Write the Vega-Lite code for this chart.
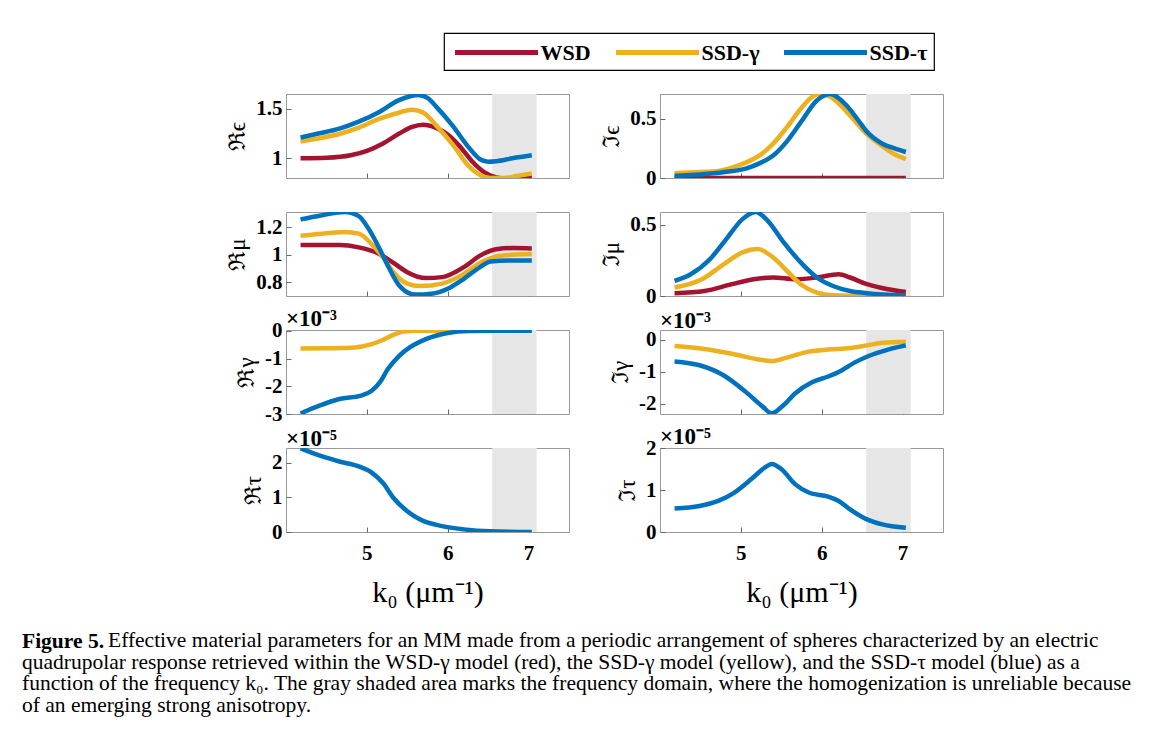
{
  "$schema": "https://vega.github.io/schema/vega-lite/v6.json",
  "background": "white",
  "padding": {"left": 22, "top": 32, "right": 5, "bottom": 5},
  "bounds": "flush",
  "columns": 2,
  "spacing": {"row": 34, "column": 91},
  "title": {
    "text": "Figure 5.",
    "subtitle": [
      "\u200b\u00a0\u00a0\u00a0\u00a0\u00a0\u00a0\u00a0\u00a0\u00a0\u00a0\u00a0\u00a0\u00a0\u00a0\u00a0\u00a0Effective material parameters for an MM made from a periodic arrangement of spheres characterized by an electric",
      "quadrupolar response retrieved within the WSD-γ model (red), the SSD-γ model (yellow), and the SSD-τ model (blue) as a",
      "function of the frequency k₀. The gray shaded area marks the frequency domain, where the homogenization is unreliable because",
      "of an emerging strong anisotropy."
    ],
    "orient": "bottom", "anchor": "start", "frame": "group", "dx": -264, "offset": 23,
    "font": "Liberation Serif", "fontSize": 21.5, "fontWeight": "bold", "color": "black",
    "subtitleFont": "Liberation Serif", "subtitleFontSize": 21.5, "subtitleColor": "black",
    "subtitleLineHeight": 21.7, "subtitlePadding": -22, "subtitleFontWeight": "normal"
  },
  "datasets": {
    "shade": [{"a": 6.55, "b": 7.1}],
    "curves": [
      {"p":"ReE","m":"WSD","k":4.18,"v":1.0},{"p":"ReE","m":"WSD","k":4.5,"v":1.005},{"p":"ReE","m":"WSD","k":4.8,"v":1.03},{"p":"ReE","m":"WSD","k":5.0,"v":1.075},{"p":"ReE","m":"WSD","k":5.2,"v":1.15},{"p":"ReE","m":"WSD","k":5.4,"v":1.25},{"p":"ReE","m":"WSD","k":5.55,"v":1.315},{"p":"ReE","m":"WSD","k":5.7,"v":1.34},{"p":"ReE","m":"WSD","k":5.85,"v":1.31},{"p":"ReE","m":"WSD","k":6.0,"v":1.24},{"p":"ReE","m":"WSD","k":6.15,"v":1.12},{"p":"ReE","m":"WSD","k":6.3,"v":0.97},{"p":"ReE","m":"WSD","k":6.45,"v":0.86},{"p":"ReE","m":"WSD","k":6.6,"v":0.805},{"p":"ReE","m":"WSD","k":6.75,"v":0.79},{"p":"ReE","m":"WSD","k":6.9,"v":0.8},{"p":"ReE","m":"WSD","k":7.04,"v":0.815},
      {"p":"ReE","m":"SSD-γ","k":4.18,"v":1.17},{"p":"ReE","m":"SSD-γ","k":4.4,"v":1.2},{"p":"ReE","m":"SSD-γ","k":4.66,"v":1.245},{"p":"ReE","m":"SSD-γ","k":4.9,"v":1.31},{"p":"ReE","m":"SSD-γ","k":5.16,"v":1.4},{"p":"ReE","m":"SSD-γ","k":5.35,"v":1.45},{"p":"ReE","m":"SSD-γ","k":5.56,"v":1.49},{"p":"ReE","m":"SSD-γ","k":5.7,"v":1.46},{"p":"ReE","m":"SSD-γ","k":5.86,"v":1.33},{"p":"ReE","m":"SSD-γ","k":6.06,"v":1.14},{"p":"ReE","m":"SSD-γ","k":6.26,"v":0.92},{"p":"ReE","m":"SSD-γ","k":6.4,"v":0.83},{"p":"ReE","m":"SSD-γ","k":6.53,"v":0.8},{"p":"ReE","m":"SSD-γ","k":6.7,"v":0.8},{"p":"ReE","m":"SSD-γ","k":6.85,"v":0.82},{"p":"ReE","m":"SSD-γ","k":7.04,"v":0.845},
      {"p":"ReE","m":"SSD-τ","k":4.18,"v":1.21},{"p":"ReE","m":"SSD-τ","k":4.4,"v":1.25},{"p":"ReE","m":"SSD-τ","k":4.66,"v":1.3},{"p":"ReE","m":"SSD-τ","k":4.9,"v":1.37},{"p":"ReE","m":"SSD-τ","k":5.16,"v":1.47},{"p":"ReE","m":"SSD-τ","k":5.39,"v":1.585},{"p":"ReE","m":"SSD-τ","k":5.55,"v":1.63},{"p":"ReE","m":"SSD-τ","k":5.63,"v":1.64},{"p":"ReE","m":"SSD-τ","k":5.75,"v":1.61},{"p":"ReE","m":"SSD-τ","k":5.86,"v":1.52},{"p":"ReE","m":"SSD-τ","k":6.06,"v":1.33},{"p":"ReE","m":"SSD-τ","k":6.26,"v":1.11},{"p":"ReE","m":"SSD-τ","k":6.4,"v":0.99},{"p":"ReE","m":"SSD-τ","k":6.5,"v":0.965},{"p":"ReE","m":"SSD-τ","k":6.6,"v":0.97},{"p":"ReE","m":"SSD-τ","k":6.8,"v":1.0},{"p":"ReE","m":"SSD-τ","k":7.04,"v":1.03},

      {"p":"ImE","m":"WSD","k":4.18,"v":0},{"p":"ImE","m":"WSD","k":5.5,"v":0},{"p":"ImE","m":"WSD","k":7.04,"v":0},
      {"p":"ImE","m":"SSD-γ","k":4.18,"v":0.04},{"p":"ImE","m":"SSD-γ","k":4.5,"v":0.05},{"p":"ImE","m":"SSD-γ","k":4.72,"v":0.06},{"p":"ImE","m":"SSD-γ","k":4.9,"v":0.09},{"p":"ImE","m":"SSD-γ","k":5.06,"v":0.13},{"p":"ImE","m":"SSD-γ","k":5.25,"v":0.2},{"p":"ImE","m":"SSD-γ","k":5.4,"v":0.29},{"p":"ImE","m":"SSD-γ","k":5.57,"v":0.43},{"p":"ImE","m":"SSD-γ","k":5.74,"v":0.585},{"p":"ImE","m":"SSD-γ","k":5.87,"v":0.68},{"p":"ImE","m":"SSD-γ","k":5.97,"v":0.71},{"p":"ImE","m":"SSD-γ","k":6.1,"v":0.69},{"p":"ImE","m":"SSD-γ","k":6.24,"v":0.61},{"p":"ImE","m":"SSD-γ","k":6.4,"v":0.49},{"p":"ImE","m":"SSD-γ","k":6.56,"v":0.37},{"p":"ImE","m":"SSD-γ","k":6.75,"v":0.27},{"p":"ImE","m":"SSD-γ","k":6.9,"v":0.2},{"p":"ImE","m":"SSD-γ","k":7.04,"v":0.16},
      {"p":"ImE","m":"SSD-τ","k":4.18,"v":0.02},{"p":"ImE","m":"SSD-τ","k":4.5,"v":0.03},{"p":"ImE","m":"SSD-τ","k":4.8,"v":0.05},{"p":"ImE","m":"SSD-τ","k":5.06,"v":0.08},{"p":"ImE","m":"SSD-τ","k":5.25,"v":0.13},{"p":"ImE","m":"SSD-τ","k":5.4,"v":0.19},{"p":"ImE","m":"SSD-τ","k":5.57,"v":0.31},{"p":"ImE","m":"SSD-τ","k":5.74,"v":0.47},{"p":"ImE","m":"SSD-τ","k":5.94,"v":0.655},{"p":"ImE","m":"SSD-τ","k":6.11,"v":0.71},{"p":"ImE","m":"SSD-τ","k":6.2,"v":0.68},{"p":"ImE","m":"SSD-τ","k":6.31,"v":0.61},{"p":"ImE","m":"SSD-τ","k":6.45,"v":0.49},{"p":"ImE","m":"SSD-τ","k":6.56,"v":0.39},{"p":"ImE","m":"SSD-τ","k":6.75,"v":0.29},{"p":"ImE","m":"SSD-τ","k":6.9,"v":0.25},{"p":"ImE","m":"SSD-τ","k":7.04,"v":0.22},

      {"p":"ReM","m":"WSD","k":4.18,"v":1.07},{"p":"ReM","m":"WSD","k":4.66,"v":1.07},{"p":"ReM","m":"WSD","k":4.9,"v":1.053},{"p":"ReM","m":"WSD","k":5.13,"v":1.012},{"p":"ReM","m":"WSD","k":5.33,"v":0.94},{"p":"ReM","m":"WSD","k":5.5,"v":0.873},{"p":"ReM","m":"WSD","k":5.73,"v":0.83},{"p":"ReM","m":"WSD","k":5.93,"v":0.837},{"p":"ReM","m":"WSD","k":6.2,"v":0.91},{"p":"ReM","m":"WSD","k":6.4,"v":0.993},{"p":"ReM","m":"WSD","k":6.6,"v":1.04},{"p":"ReM","m":"WSD","k":6.8,"v":1.048},{"p":"ReM","m":"WSD","k":7.04,"v":1.045},
      {"p":"ReM","m":"SSD-γ","k":4.18,"v":1.137},{"p":"ReM","m":"SSD-γ","k":4.5,"v":1.155},{"p":"ReM","m":"SSD-γ","k":4.73,"v":1.165},{"p":"ReM","m":"SSD-γ","k":4.9,"v":1.153},{"p":"ReM","m":"SSD-γ","k":5.06,"v":1.077},{"p":"ReM","m":"SSD-γ","k":5.2,"v":0.98},{"p":"ReM","m":"SSD-γ","k":5.33,"v":0.873},{"p":"ReM","m":"SSD-γ","k":5.5,"v":0.79},{"p":"ReM","m":"SSD-γ","k":5.66,"v":0.772},{"p":"ReM","m":"SSD-γ","k":5.93,"v":0.79},{"p":"ReM","m":"SSD-γ","k":6.2,"v":0.861},{"p":"ReM","m":"SSD-γ","k":6.4,"v":0.94},{"p":"ReM","m":"SSD-γ","k":6.6,"v":0.988},{"p":"ReM","m":"SSD-γ","k":6.8,"v":1.0},{"p":"ReM","m":"SSD-γ","k":7.04,"v":1.005},
      {"p":"ReM","m":"SSD-τ","k":4.18,"v":1.256},{"p":"ReM","m":"SSD-τ","k":4.43,"v":1.285},{"p":"ReM","m":"SSD-τ","k":4.73,"v":1.31},{"p":"ReM","m":"SSD-τ","k":4.9,"v":1.28},{"p":"ReM","m":"SSD-τ","k":5.03,"v":1.18},{"p":"ReM","m":"SSD-τ","k":5.16,"v":1.04},{"p":"ReM","m":"SSD-τ","k":5.26,"v":0.92},{"p":"ReM","m":"SSD-τ","k":5.4,"v":0.777},{"p":"ReM","m":"SSD-τ","k":5.6,"v":0.71},{"p":"ReM","m":"SSD-τ","k":5.8,"v":0.717},{"p":"ReM","m":"SSD-τ","k":6.0,"v":0.753},{"p":"ReM","m":"SSD-τ","k":6.2,"v":0.825},{"p":"ReM","m":"SSD-τ","k":6.4,"v":0.91},{"p":"ReM","m":"SSD-τ","k":6.53,"v":0.95},{"p":"ReM","m":"SSD-τ","k":6.75,"v":0.957},{"p":"ReM","m":"SSD-τ","k":7.04,"v":0.957},

      {"p":"ImM","m":"WSD","k":4.18,"v":0.019},{"p":"ImM","m":"WSD","k":4.55,"v":0.035},{"p":"ImM","m":"WSD","k":4.89,"v":0.083},{"p":"ImM","m":"WSD","k":5.16,"v":0.118},{"p":"ImM","m":"WSD","k":5.4,"v":0.13},{"p":"ImM","m":"WSD","k":5.67,"v":0.118},{"p":"ImM","m":"WSD","k":5.94,"v":0.13},{"p":"ImM","m":"WSD","k":6.21,"v":0.153},{"p":"ImM","m":"WSD","k":6.35,"v":0.13},{"p":"ImM","m":"WSD","k":6.56,"v":0.083},{"p":"ImM","m":"WSD","k":6.82,"v":0.047},{"p":"ImM","m":"WSD","k":7.04,"v":0.028},
      {"p":"ImM","m":"SSD-γ","k":4.18,"v":0.06},{"p":"ImM","m":"SSD-γ","k":4.52,"v":0.118},{"p":"ImM","m":"SSD-γ","k":4.79,"v":0.224},{"p":"ImM","m":"SSD-γ","k":5.02,"v":0.307},{"p":"ImM","m":"SSD-γ","k":5.21,"v":0.33},{"p":"ImM","m":"SSD-γ","k":5.4,"v":0.27},{"p":"ImM","m":"SSD-γ","k":5.57,"v":0.177},{"p":"ImM","m":"SSD-γ","k":5.74,"v":0.083},{"p":"ImM","m":"SSD-γ","k":5.94,"v":0.024},{"p":"ImM","m":"SSD-γ","k":6.14,"v":0.005},{"p":"ImM","m":"SSD-γ","k":6.5,"v":0},{"p":"ImM","m":"SSD-γ","k":7.04,"v":0},
      {"p":"ImM","m":"SSD-τ","k":4.18,"v":0.106},{"p":"ImM","m":"SSD-τ","k":4.38,"v":0.153},{"p":"ImM","m":"SSD-τ","k":4.62,"v":0.26},{"p":"ImM","m":"SSD-τ","k":4.82,"v":0.4},{"p":"ImM","m":"SSD-τ","k":5.02,"v":0.54},{"p":"ImM","m":"SSD-τ","k":5.18,"v":0.59},{"p":"ImM","m":"SSD-τ","k":5.33,"v":0.53},{"p":"ImM","m":"SSD-τ","k":5.53,"v":0.377},{"p":"ImM","m":"SSD-τ","k":5.74,"v":0.236},{"p":"ImM","m":"SSD-τ","k":5.94,"v":0.13},{"p":"ImM","m":"SSD-τ","k":6.14,"v":0.07},{"p":"ImM","m":"SSD-τ","k":6.35,"v":0.035},{"p":"ImM","m":"SSD-τ","k":6.56,"v":0.02},{"p":"ImM","m":"SSD-τ","k":7.04,"v":0.005},

      {"p":"ReG","m":"SSD-γ","k":4.18,"v":-0.64},{"p":"ReG","m":"SSD-γ","k":4.5,"v":-0.63},{"p":"ReG","m":"SSD-γ","k":4.85,"v":-0.6},{"p":"ReG","m":"SSD-γ","k":5.06,"v":-0.48},{"p":"ReG","m":"SSD-γ","k":5.18,"v":-0.35},{"p":"ReG","m":"SSD-γ","k":5.3,"v":-0.18},{"p":"ReG","m":"SSD-γ","k":5.46,"v":-0.02},{"p":"ReG","m":"SSD-γ","k":5.6,"v":0},{"p":"ReG","m":"SSD-γ","k":7.04,"v":0},
      {"p":"ReG","m":"SSD-τ","k":4.18,"v":-2.98},{"p":"ReG","m":"SSD-τ","k":4.43,"v":-2.68},{"p":"ReG","m":"SSD-τ","k":4.66,"v":-2.46},{"p":"ReG","m":"SSD-τ","k":4.93,"v":-2.34},{"p":"ReG","m":"SSD-τ","k":5.06,"v":-2.16},{"p":"ReG","m":"SSD-τ","k":5.16,"v":-1.86},{"p":"ReG","m":"SSD-τ","k":5.26,"v":-1.38},{"p":"ReG","m":"SSD-τ","k":5.4,"v":-0.9},{"p":"ReG","m":"SSD-τ","k":5.53,"v":-0.6},{"p":"ReG","m":"SSD-τ","k":5.73,"v":-0.3},{"p":"ReG","m":"SSD-τ","k":6.0,"v":-0.08},{"p":"ReG","m":"SSD-τ","k":6.26,"v":-0.01},{"p":"ReG","m":"SSD-τ","k":6.6,"v":0},{"p":"ReG","m":"SSD-τ","k":7.04,"v":0},

      {"p":"ImG","m":"SSD-γ","k":4.18,"v":-0.2},{"p":"ImG","m":"SSD-γ","k":4.55,"v":-0.29},{"p":"ImG","m":"SSD-γ","k":4.89,"v":-0.44},{"p":"ImG","m":"SSD-γ","k":5.2,"v":-0.61},{"p":"ImG","m":"SSD-γ","k":5.38,"v":-0.67},{"p":"ImG","m":"SSD-γ","k":5.57,"v":-0.56},{"p":"ImG","m":"SSD-γ","k":5.81,"v":-0.39},{"p":"ImG","m":"SSD-γ","k":6.08,"v":-0.31},{"p":"ImG","m":"SSD-γ","k":6.35,"v":-0.26},{"p":"ImG","m":"SSD-γ","k":6.56,"v":-0.18},{"p":"ImG","m":"SSD-γ","k":6.75,"v":-0.1},{"p":"ImG","m":"SSD-γ","k":7.04,"v":-0.07},
      {"p":"ImG","m":"SSD-τ","k":4.18,"v":-0.68},{"p":"ImG","m":"SSD-τ","k":4.49,"v":-0.8},{"p":"ImG","m":"SSD-τ","k":4.79,"v":-1.12},{"p":"ImG","m":"SSD-τ","k":5.06,"v":-1.63},{"p":"ImG","m":"SSD-τ","k":5.27,"v":-2.09},{"p":"ImG","m":"SSD-τ","k":5.38,"v":-2.3},{"p":"ImG","m":"SSD-τ","k":5.53,"v":-2.04},{"p":"ImG","m":"SSD-τ","k":5.67,"v":-1.68},{"p":"ImG","m":"SSD-τ","k":5.88,"v":-1.33},{"p":"ImG","m":"SSD-τ","k":6.08,"v":-1.15},{"p":"ImG","m":"SSD-τ","k":6.24,"v":-0.97},{"p":"ImG","m":"SSD-τ","k":6.41,"v":-0.71},{"p":"ImG","m":"SSD-τ","k":6.58,"v":-0.51},{"p":"ImG","m":"SSD-τ","k":6.82,"v":-0.31},{"p":"ImG","m":"SSD-τ","k":7.04,"v":-0.18},

      {"p":"ReT","m":"SSD-τ","k":4.18,"v":2.41},{"p":"ReT","m":"SSD-τ","k":4.43,"v":2.19},{"p":"ReT","m":"SSD-τ","k":4.66,"v":2.03},{"p":"ReT","m":"SSD-τ","k":4.9,"v":1.89},{"p":"ReT","m":"SSD-τ","k":5.06,"v":1.71},{"p":"ReT","m":"SSD-τ","k":5.2,"v":1.41},{"p":"ReT","m":"SSD-τ","k":5.33,"v":0.98},{"p":"ReT","m":"SSD-τ","k":5.5,"v":0.6},{"p":"ReT","m":"SSD-τ","k":5.66,"v":0.36},{"p":"ReT","m":"SSD-τ","k":5.93,"v":0.17},{"p":"ReT","m":"SSD-τ","k":6.2,"v":0.076},{"p":"ReT","m":"SSD-τ","k":6.53,"v":0.02},{"p":"ReT","m":"SSD-τ","k":7.04,"v":0},

      {"p":"ImT","m":"SSD-τ","k":4.18,"v":0.56},{"p":"ImT","m":"SSD-τ","k":4.49,"v":0.62},{"p":"ImT","m":"SSD-τ","k":4.72,"v":0.74},{"p":"ImT","m":"SSD-τ","k":4.92,"v":0.94},{"p":"ImT","m":"SSD-τ","k":5.13,"v":1.26},{"p":"ImT","m":"SSD-τ","k":5.3,"v":1.54},{"p":"ImT","m":"SSD-τ","k":5.38,"v":1.62},{"p":"ImT","m":"SSD-τ","k":5.5,"v":1.5},{"p":"ImT","m":"SSD-τ","k":5.67,"v":1.14},{"p":"ImT","m":"SSD-τ","k":5.84,"v":0.94},{"p":"ImT","m":"SSD-τ","k":6.08,"v":0.84},{"p":"ImT","m":"SSD-τ","k":6.21,"v":0.74},{"p":"ImT","m":"SSD-τ","k":6.35,"v":0.54},{"p":"ImT","m":"SSD-τ","k":6.56,"v":0.3},{"p":"ImT","m":"SSD-τ","k":6.75,"v":0.18},{"p":"ImT","m":"SSD-τ","k":7.04,"v":0.1}
    ]
  },
  "concat": [
    {"width": 283, "height": 84, "layer": [
      {"data": {"name": "shade"}, "mark": {"type": "rect", "color": "#e6e6e6", "clip": true}, "encoding": {"x": {"field": "a", "type": "quantitative", "scale": {"domain": [4.18, 7.04]}, "axis": {"values": [5, 6, 7], "labels": false, "title": null}}, "x2": {"field": "b"}}},
      {"data": {"name": "curves"}, "transform": [{"filter": "datum.p == 'ReE'"}], "mark": {"type": "line", "strokeWidth": 4.5, "clip": true, "interpolate": "monotone"}, "encoding": {"x": {"field": "k", "type": "quantitative"}, "y": {"field": "v", "type": "quantitative", "scale": {"domain": [0.8, 1.65]}, "axis": {"values": [1, 1.5], "title": "ℜϵ"}}, "color": {"field": "m", "type": "nominal", "scale": {"domain": ["WSD", "SSD-γ", "SSD-τ"], "range": ["#A2142F", "#EDB120", "#0072BD"]}}}}
    ]},
    {"width": 283, "height": 84, "layer": [
      {"data": {"name": "shade"}, "mark": {"type": "rect", "color": "#e6e6e6", "clip": true}, "encoding": {"x": {"field": "a", "type": "quantitative", "scale": {"domain": [4.18, 7.04]}, "axis": {"values": [5, 6, 7], "labels": false, "title": null}}, "x2": {"field": "b"}}},
      {"data": {"name": "curves"}, "transform": [{"filter": "datum.p == 'ImE'"}], "mark": {"type": "line", "strokeWidth": 4.5, "clip": true, "interpolate": "monotone"}, "encoding": {"x": {"field": "k", "type": "quantitative"}, "y": {"field": "v", "type": "quantitative", "scale": {"domain": [0, 0.71]}, "axis": {"values": [0, 0.5], "title": "ℑϵ"}}, "color": {"field": "m", "type": "nominal", "scale": {"domain": ["WSD", "SSD-γ", "SSD-τ"], "range": ["#A2142F", "#EDB120", "#0072BD"]}}}}
    ]},
    {"width": 283, "height": 84, "layer": [
      {"data": {"name": "shade"}, "mark": {"type": "rect", "color": "#e6e6e6", "clip": true}, "encoding": {"x": {"field": "a", "type": "quantitative", "scale": {"domain": [4.18, 7.04]}, "axis": {"values": [5, 6, 7], "labels": false, "title": null}}, "x2": {"field": "b"}}},
      {"data": {"name": "curves"}, "transform": [{"filter": "datum.p == 'ReM'"}], "mark": {"type": "line", "strokeWidth": 4.5, "clip": true, "interpolate": "monotone"}, "encoding": {"x": {"field": "k", "type": "quantitative"}, "y": {"field": "v", "type": "quantitative", "scale": {"domain": [0.7, 1.31]}, "axis": {"values": [0.8, 1, 1.2], "title": "ℜμ"}}, "color": {"field": "m", "type": "nominal", "scale": {"domain": ["WSD", "SSD-γ", "SSD-τ"], "range": ["#A2142F", "#EDB120", "#0072BD"]}}}}
    ]},
    {"width": 283, "height": 84, "layer": [
      {"data": {"name": "shade"}, "mark": {"type": "rect", "color": "#e6e6e6", "clip": true}, "encoding": {"x": {"field": "a", "type": "quantitative", "scale": {"domain": [4.18, 7.04]}, "axis": {"values": [5, 6, 7], "labels": false, "title": null}}, "x2": {"field": "b"}}},
      {"data": {"name": "curves"}, "transform": [{"filter": "datum.p == 'ImM'"}], "mark": {"type": "line", "strokeWidth": 4.5, "clip": true, "interpolate": "monotone"}, "encoding": {"x": {"field": "k", "type": "quantitative"}, "y": {"field": "v", "type": "quantitative", "scale": {"domain": [0, 0.59]}, "axis": {"values": [0, 0.5], "title": "ℑμ"}}, "color": {"field": "m", "type": "nominal", "scale": {"domain": ["WSD", "SSD-γ", "SSD-τ"], "range": ["#A2142F", "#EDB120", "#0072BD"]}}}}
    ]},
    {"width": 283, "height": 84,
     "title": {"text": "×10⁻³", "anchor": "start", "frame": "group", "offset": -11, "font": "Liberation Serif", "fontSize": 23, "fontWeight": "bold", "color": "black"},
     "layer": [
      {"data": {"name": "shade"}, "mark": {"type": "rect", "color": "#e6e6e6", "clip": true}, "encoding": {"x": {"field": "a", "type": "quantitative", "scale": {"domain": [4.18, 7.04]}, "axis": {"values": [5, 6, 7], "labels": false, "title": null}}, "x2": {"field": "b"}}},
      {"data": {"name": "curves"}, "transform": [{"filter": "datum.p == 'ReG'"}], "mark": {"type": "line", "strokeWidth": 4.5, "clip": true, "interpolate": "monotone"}, "encoding": {"x": {"field": "k", "type": "quantitative"}, "y": {"field": "v", "type": "quantitative", "scale": {"domain": [-3, 0.03]}, "axis": {"values": [-3, -2, -1, 0], "title": "ℜγ"}}, "color": {"field": "m", "type": "nominal", "scale": {"domain": ["WSD", "SSD-γ", "SSD-τ"], "range": ["#A2142F", "#EDB120", "#0072BD"]}}}}
    ]},
    {"width": 283, "height": 84,
     "title": {"text": "×10⁻³", "anchor": "start", "frame": "group", "offset": -4, "font": "Liberation Serif", "fontSize": 23, "fontWeight": "bold", "color": "black"},
     "layer": [
      {"data": {"name": "shade"}, "mark": {"type": "rect", "color": "#e6e6e6", "clip": true}, "encoding": {"x": {"field": "a", "type": "quantitative", "scale": {"domain": [4.18, 7.04]}, "axis": {"values": [5, 6, 7], "labels": false, "title": null}}, "x2": {"field": "b"}}},
      {"data": {"name": "curves"}, "transform": [{"filter": "datum.p == 'ImG'"}], "mark": {"type": "line", "strokeWidth": 4.5, "clip": true, "interpolate": "monotone"}, "encoding": {"x": {"field": "k", "type": "quantitative"}, "y": {"field": "v", "type": "quantitative", "scale": {"domain": [-2.32, 0.3]}, "axis": {"values": [-2, -1, 0], "title": "ℑγ"}}, "color": {"field": "m", "type": "nominal", "scale": {"domain": ["WSD", "SSD-γ", "SSD-τ"], "range": ["#A2142F", "#EDB120", "#0072BD"]}}}}
    ]},
    {"width": 283, "height": 84,
     "title": {"text": "×10⁻⁵", "anchor": "start", "frame": "group", "offset": -2.5, "font": "Liberation Serif", "fontSize": 23, "fontWeight": "bold", "color": "black"},
     "layer": [
      {"data": {"name": "shade"}, "mark": {"type": "rect", "color": "#e6e6e6", "clip": true}, "encoding": {"x": {"field": "a", "type": "quantitative", "scale": {"domain": [4.18, 7.04]}, "axis": {"values": [5, 6, 7], "title": "k₀ (μm⁻¹)"}}, "x2": {"field": "b"}}},
      {"data": {"name": "curves"}, "transform": [{"filter": "datum.p == 'ReT'"}], "mark": {"type": "line", "strokeWidth": 4.5, "clip": true, "interpolate": "monotone"}, "encoding": {"x": {"field": "k", "type": "quantitative"}, "y": {"field": "v", "type": "quantitative", "scale": {"domain": [0, 2.42]}, "axis": {"values": [0, 1, 2], "title": "ℜτ"}}, "color": {"field": "m", "type": "nominal", "scale": {"domain": ["WSD", "SSD-γ", "SSD-τ"], "range": ["#A2142F", "#EDB120", "#0072BD"]}}}}
    ]},
    {"width": 283, "height": 84,
     "title": {"text": "×10⁻⁵", "anchor": "start", "frame": "group", "offset": -12, "font": "Liberation Serif", "fontSize": 23, "fontWeight": "bold", "color": "black"},
     "layer": [
      {"data": {"name": "shade"}, "mark": {"type": "rect", "color": "#e6e6e6", "clip": true}, "encoding": {"x": {"field": "a", "type": "quantitative", "scale": {"domain": [4.18, 7.04]}, "axis": {"values": [5, 6, 7], "title": "k₀ (μm⁻¹)"}}, "x2": {"field": "b"}}},
      {"data": {"name": "curves"}, "transform": [{"filter": "datum.p == 'ImT'"}], "mark": {"type": "line", "strokeWidth": 4.5, "clip": true, "interpolate": "monotone"}, "encoding": {"x": {"field": "k", "type": "quantitative"}, "y": {"field": "v", "type": "quantitative", "scale": {"domain": [0, 2]}, "axis": {"values": [0, 1, 2], "title": "ℑτ"}}, "color": {"field": "m", "type": "nominal", "scale": {"domain": ["WSD", "SSD-γ", "SSD-τ"], "range": ["#A2142F", "#EDB120", "#0072BD"]}}}}
    ]}
  ],
  "config": {
    "view": {"stroke": "#999999", "strokeWidth": 1},
    "axis": {
      "domain": false, "grid": false, "format": "~g", "labelExpr": "replace(datum.label, '−', '-')",
      "labelFont": "Liberation Serif", "labelFontSize": 21, "labelFontWeight": "bold", "labelColor": "black",
      "tickColor": "#666666", "tickSize": -5, "labelPadding": 9,
      "titleFont": "Liberation Serif", "titleFontWeight": "normal", "titleColor": "black"
    },
    "axisY": {"titleFontSize": 23, "titlePadding": 6, "labelBaseline": "middle"},
    "axisX": {"titleFontSize": 30, "titlePadding": 14, "labelPadding": 15},
    "legend": {
      "orient": "none", "legendX": 158, "legendY": -61, "direction": "horizontal", "title": null,
      "symbolType": "M-4,0H4", "symbolSize": 430, "symbolStrokeWidth": 5, "symbolOffset": 33,
      "labelFont": "Liberation Serif", "labelFontSize": 22, "labelFontWeight": "bold", "labelColor": "black",
      "labelOffset": 31, "columnPadding": 14, "gridAlign": "each", "padding": 6.5, "strokeColor": "black", "strokeWidth": 1.2
    }
  }
}
